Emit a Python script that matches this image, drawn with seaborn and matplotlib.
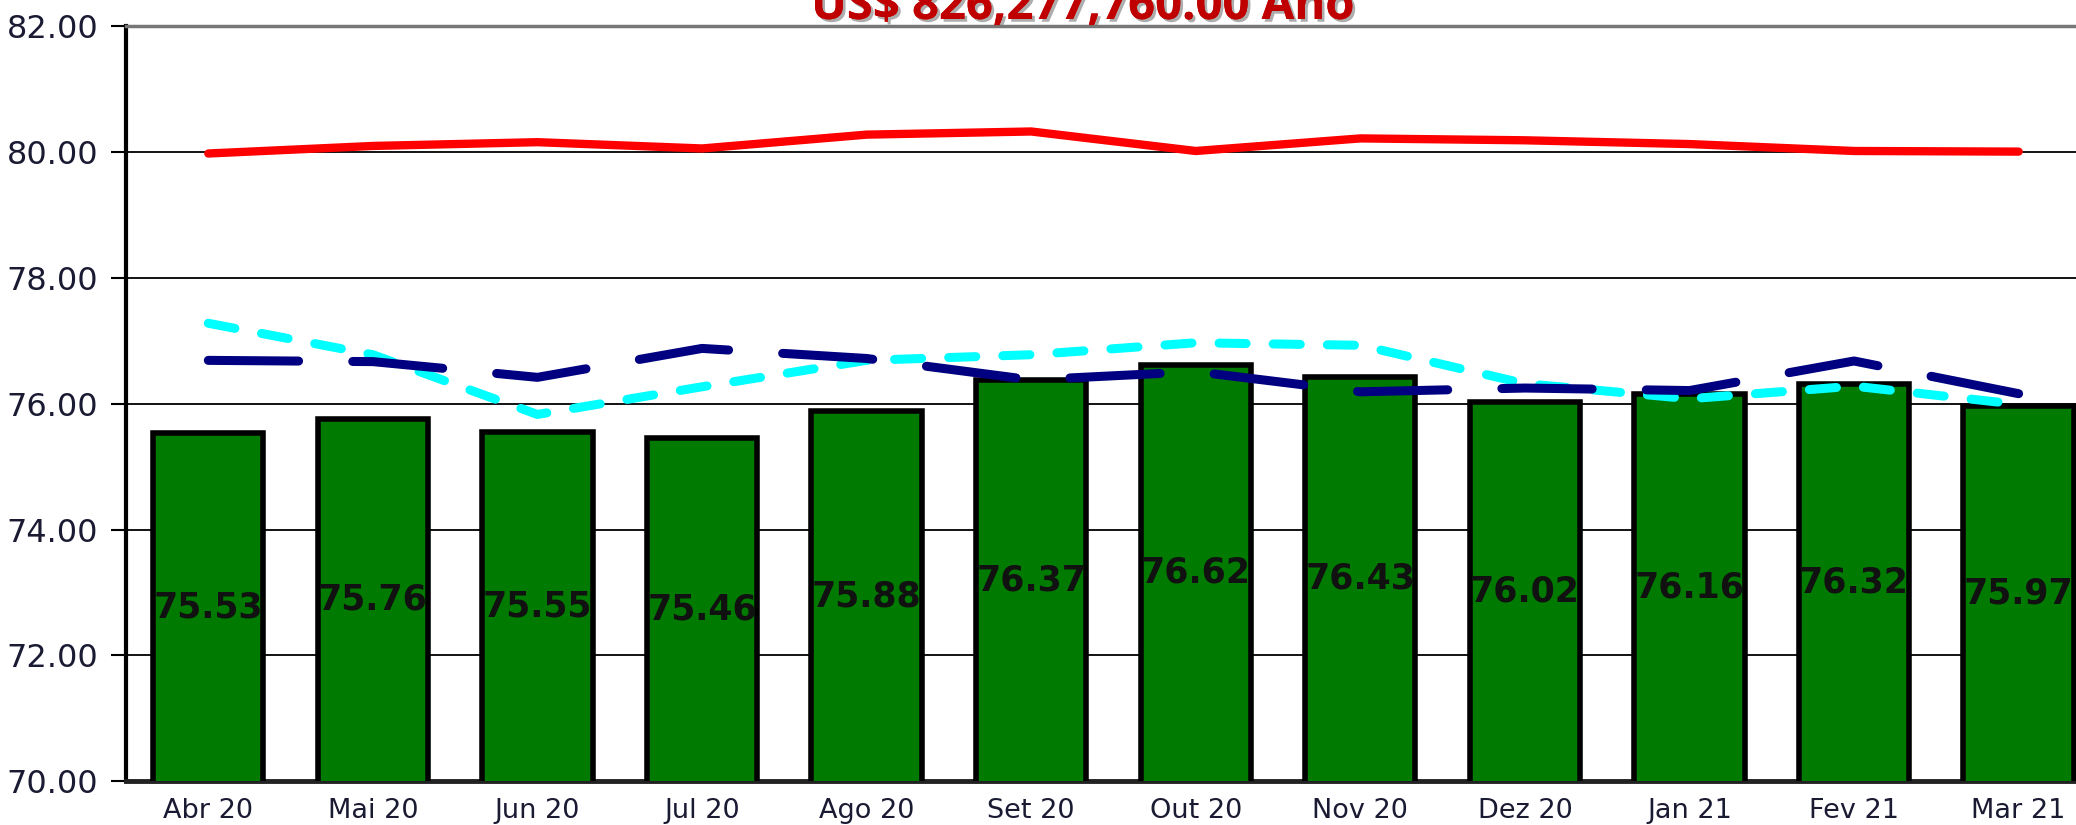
import matplotlib
matplotlib.use("Agg")
import matplotlib.pyplot as plt
import matplotlib.patheffects as pe
import numpy as np
import pandas as pd
import seaborn as sns

months = ["Abr 20", "Mai 20", "Jun 20", "Jul 20", "Ago 20", "Set 20",
          "Out 20", "Nov 20", "Dez 20", "Jan 21", "Fev 21", "Mar 21"]
bar_values = [75.53, 75.76, 75.55, 75.46, 75.88, 76.37,
              76.62, 76.43, 76.02, 76.16, 76.32, 75.97]
red_line = [79.98, 80.10, 80.16, 80.06, 80.28, 80.33,
            80.02, 80.22, 80.19, 80.13, 80.02, 80.01]
navy_line = [76.69, 76.67, 76.42, 76.88, 76.72, 76.38,
             76.51, 76.19, 76.25, 76.21, 76.68, 76.16]
cyan_line = [77.28, 76.78, 75.83, 76.27, 76.69, 76.78,
             76.97, 76.93, 76.32, 76.08, 76.28, 75.99]
y_ticks = [70, 72, 74, 76, 78, 80, 82]
title_text = "US$ 826,277,760.00 Ano"

sns.set_theme(style="white")
plt.rcParams['font.family'] = ['DejaVu Sans']

fig = plt.figure(figsize=(20.76, 8.25), dpi=100)
ax = fig.add_axes([0.0607, 0.0533, 0.9513, 0.9146])

df = pd.DataFrame({"mes": months, "valor": bar_values})
sns.barplot(data=df, x="mes", y="valor", color="#007A00", saturation=1,
            width=0.67, edgecolor="black", linewidth=4, ax=ax, zorder=3)

# value labels sit half way up each bar
for i, v in enumerate(bar_values):
    ax.text(i, (70 + v) / 2, f"{v:.2f}", ha="center", va="center",
            fontsize=25, fontweight="bold", color="#111111", zorder=5)

x = np.arange(len(months))
sns.lineplot(x=x, y=red_line, color="#FF0000", linewidth=6, ax=ax,
             zorder=4, solid_capstyle="round")
sns.lineplot(x=x, y=cyan_line, color="#00FFFF", linewidth=6.5, ax=ax,
             zorder=4, linestyle=(0, (3, 3)), dash_capstyle="round")
sns.lineplot(x=x, y=navy_line, color="#000080", linewidth=6.5, ax=ax,
             zorder=5, linestyle=(0, (10, 6)), dash_capstyle="round")

ax.set_xlim(-0.5, 11.5)
ax.set_ylim(70, 82)
ax.set_yticks(y_ticks)
ax.set_yticklabels([f"{t:.2f}" for t in y_ticks])
ax.set_xlabel("")
ax.set_ylabel("")
ax.yaxis.grid(True, color="black", linewidth=1.3)
ax.xaxis.grid(False)
ax.set_axisbelow(True)

ax.tick_params(axis="y", direction="out", length=11, width=1.5, color="black",
               pad=9, labelsize=23, labelcolor="#1a1a33", left=True)
ax.tick_params(axis="x", length=0, pad=12, labelsize=19.5, labelcolor="#1a1a33")

ax.spines["left"].set_color("black")
ax.spines["left"].set_linewidth(3)
ax.spines["bottom"].set_color("#222222")
ax.spines["bottom"].set_linewidth(3.5)
ax.spines["top"].set_color("#777777")
ax.spines["top"].set_linewidth(2.5)
ax.spines["right"].set_visible(False)

fig.text(0.5217, 0.977, title_text, ha="center", va="baseline",
         fontsize=34, fontweight="bold", color="#C00000", family="Open Sans",
         path_effects=[pe.withSimplePatchShadow(offset=(2, -2), shadow_rgbFace="#777777", alpha=0.6), pe.Normal()])

fig.savefig("out.png", dpi=100)
